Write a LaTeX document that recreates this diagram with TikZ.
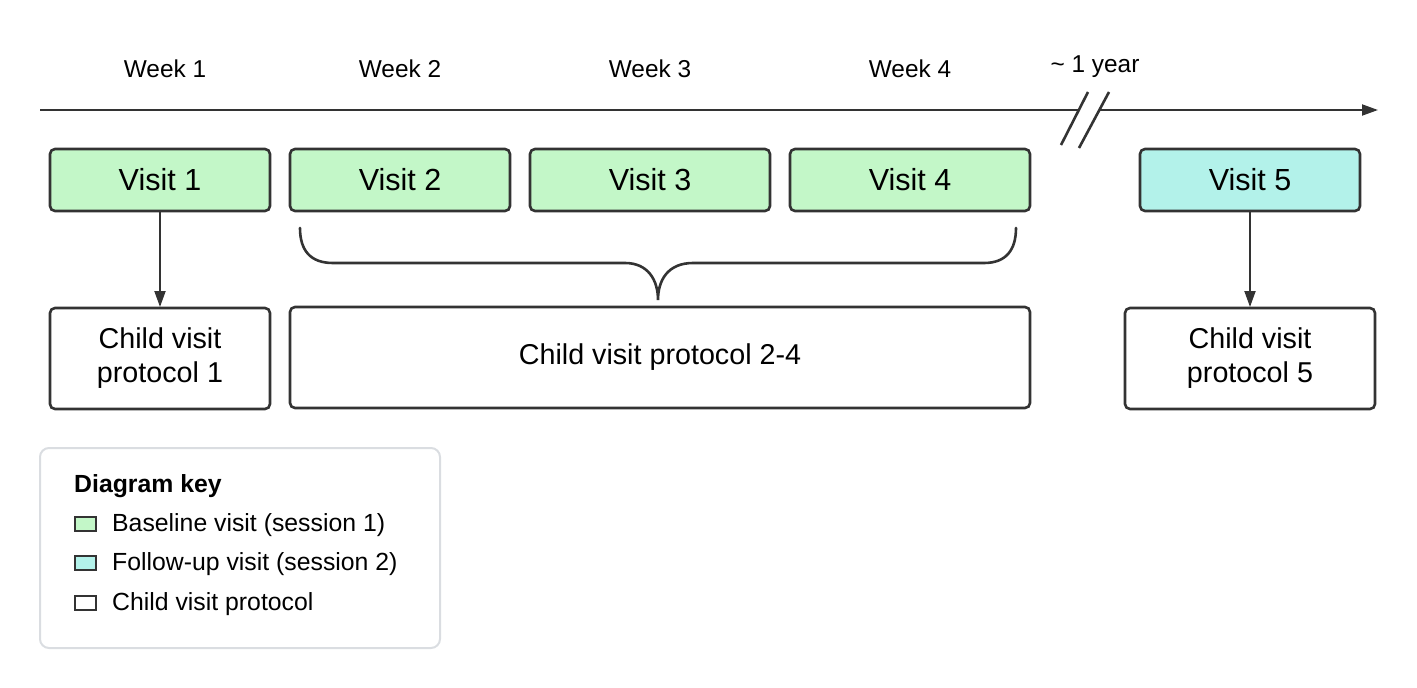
\documentclass[tikz,border=0pt]{standalone}
\usepackage{fontspec}
\setmainfont{Liberation Sans}
\usetikzlibrary{arrows.meta}
\definecolor{lineC}{HTML}{333333}
\definecolor{greenC}{HTML}{C3F7C8}
\definecolor{tealC}{HTML}{B3F2EA}
\definecolor{keyC}{HTML}{DADDE1}
\tikzset{
  visitbox/.style={draw=lineC, line width=2.6pt, rounded corners=5pt, minimum height=62pt, inner sep=0pt, font=\fontsize{30.5}{34}\selectfont},
  protobox/.style={draw=lineC, line width=2.6pt, rounded corners=5pt, fill=white, minimum height=101pt, inner sep=0pt, align=center, font=\fontsize{28.7}{34}\selectfont},
  weeklabel/.style={font=\fontsize{24.4}{28}\selectfont, inner sep=0pt},
  keytext/.style={anchor=west, font=\fontsize{24.8}{28}\selectfont, inner sep=0pt},
  swatch/.style={draw=lineC, line width=1.3pt, minimum width=21pt, minimum height=14pt, inner sep=0pt},
  arr/.style={draw=lineC, line width=2pt, -{Triangle[length=16pt,width=11pt]}},
  tline/.style={draw=lineC, line width=2pt},
}
\begin{document}
\begin{tikzpicture}[x=1pt,y=-1pt]
\useasboundingbox (0,0) rectangle (1417,688);
% timeline
\coordinate (tl0) at (40,110);
\coordinate (tlb1) at (1078,110);
\coordinate (tlb2) at (1100,110);
\coordinate (tl1) at (1378,110);
\draw[tline] (tl0) -- (tlb1);
\draw[arr] (tlb2) -- (tl1);
\coordinate (s1a) at (1061,145); \coordinate (s1b) at (1088,92);
\coordinate (s2a) at (1079,148); \coordinate (s2b) at (1109,92);
\draw[tline, line width=2.6pt] (s1a) -- (s1b);
\draw[tline, line width=2.6pt] (s2a) -- (s2b);
% week labels
\node[weeklabel] (w1) at (165,69) {Week 1};
\node[weeklabel] (w2) at (400,69) {Week 2};
\node[weeklabel] (w3) at (650,69) {Week 3};
\node[weeklabel] (w4) at (910,69) {Week 4};
\node[weeklabel] (yr) at (1095,67) {\textasciitilde{} 1 year};
% visits
\node[visitbox, fill=greenC, minimum width=220pt] (v1) at (160,180) {\raisebox{1.5pt}{Visit 1}};
\node[visitbox, fill=greenC, minimum width=220pt] (v2) at (400,180) {\raisebox{1.5pt}{Visit 2}};
\node[visitbox, fill=greenC, minimum width=240pt] (v3) at (650,180) {\raisebox{1.5pt}{Visit 3}};
\node[visitbox, fill=greenC, minimum width=240pt] (v4) at (910,180) {\raisebox{1.5pt}{Visit 4}};
\node[visitbox, fill=tealC, minimum width=220pt] (v5) at (1250,180) {\raisebox{1.5pt}{Visit 5}};
% protocols
\node[protobox, minimum width=220pt] (p1) at (160,358.5) {Child visit\\protocol 1};
\node[protobox, minimum width=740pt] (p24) at (660,357.5) {Child visit protocol 2-4};
\node[protobox, minimum width=250pt] (p5) at (1250,358.5) {Child visit\\protocol 5};
\draw[arr] (v1) -- (p1.north |- 0,307);
\draw[arr] (v5) -- (p5.north |- 0,307);
% brace
\draw[tline, line width=2.6pt, line cap=round] (300,228) .. controls (300,250) and (310,263) .. (333,263) -- (625,263)
  .. controls (648,263) and (658,280) .. (658,300)
  .. controls (658,280) and (668,263) .. (693,263) -- (984,263)
  .. controls (1006,263) and (1016,250) .. (1016,228);
% key
\draw[draw=keyC, line width=2pt, rounded corners=9pt] (40,448) rectangle (440,648);
\node[anchor=west, inner sep=0pt, font=\fontsize{24.8}{28}\selectfont\bfseries] (kt) at (74,486) {Diagram key};
\node[swatch, fill=greenC] (k1) at (85.5,524) {};
\node[swatch, fill=tealC] (k2) at (85.5,563) {};
\node[swatch, fill=white] (k3) at (85.5,603) {};
\node[keytext] (kl1) at (112,525.5) {Baseline visit (session 1)};
\node[keytext] (kl2) at (112,564.5) {Follow-up visit (session 2)};
\node[keytext] (kl3) at (112,604.5) {Child visit protocol};
\end{tikzpicture}
\end{document}
